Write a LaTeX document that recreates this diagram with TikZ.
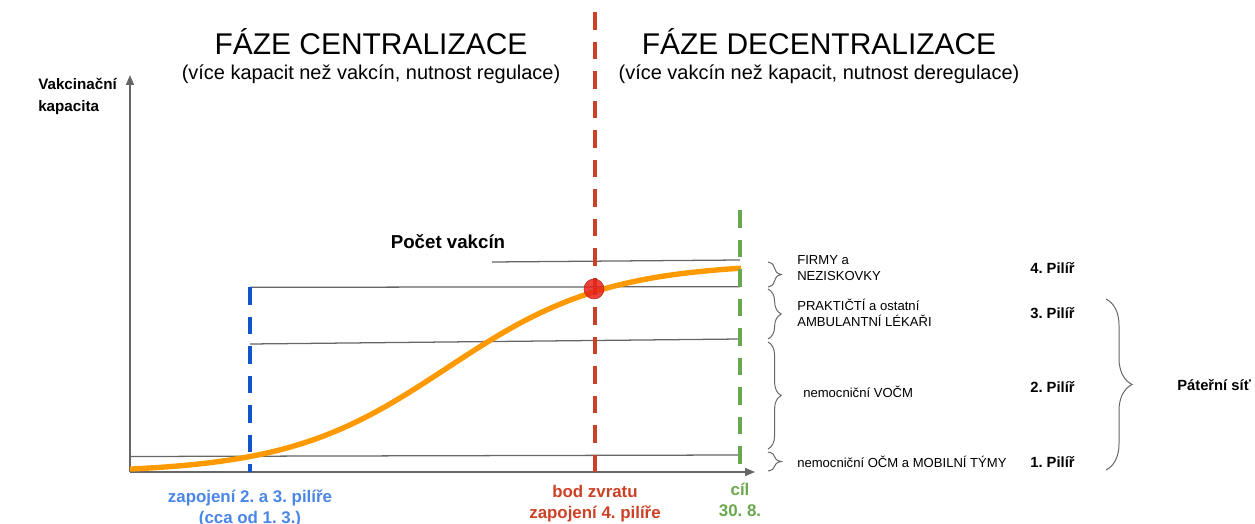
\documentclass[tikz,border=0pt]{standalone}
\usepackage{fontspec}
\setmainfont{Liberation Sans}
\usepackage{xcolor}
\usepackage{tikz}
\usetikzlibrary{positioning, calc, decorations.pathreplacing, arrows.meta}

\definecolor{axisgray}{HTML}{666666}
\definecolor{curveorange}{HTML}{FF9900}
\definecolor{phaseblue}{HTML}{1155CC}
\definecolor{labelblue}{HTML}{4A86E8}
\definecolor{phasered}{HTML}{CC4125}
\definecolor{phasegreen}{HTML}{6AA84F}
\definecolor{dotred}{HTML}{E6231B}

\newcommand{\fsz}[2]{\fontsize{#1}{#2}\selectfont}
\frenchspacing

\begin{document}
\begin{tikzpicture}[x=0.025cm, y=-0.025cm,
	title/.style={font=\fsz{21.3}{25}, inner sep=0, anchor=base},
	subtitle/.style={font=\fsz{14.2}{17}, inner sep=0, anchor=base},
	group/.style={font=\fsz{9.3}{11.3}, inner sep=0, anchor=west, align=left},
	pillar/.style={font=\bfseries\fsz{10.5}{12.6}, inner sep=0, anchor=west},
	phase/.style={font=\bfseries\fsz{12}{14.4}, inner sep=0, anchor=base, align=center},
	level/.style={axisgray, line width=0.9pt},
	marker/.style={line width=2.6pt, dash pattern=on 12.5pt off 8.5pt},
	brc/.style={axisgray, line width=0.7pt, decorate, decoration={brace, amplitude=#1}}]
			\useasboundingbox (0,0) rectangle (1255,524);
			
			% phases
			\node[title] (tcen) at (371,55) {FÁZE CENTRALIZACE};
			\node[subtitle] (scen) at ($(tcen.base)+(0,25)$) {(více kapacit než vakcín, nutnost regulace)};
			\node[title] (tdec) at (819,55) {FÁZE DECENTRALIZACE};
			\node[subtitle] (sdec) at ($(tdec.base)+(0,25)$) {(více vakcín než kapacit, nutnost deregulace)};
			
			\node[font=\bfseries\fsz{10.8}{15.6}, inner sep=0, anchor=north west, align=left] (ylab) at (38,78) {Vakcinační\\kapacita};
			\node[font=\bfseries\fsz{13.3}{16}, inner sep=0] (count) at (448,242) {Počet vakcín};
			
			% axes
			\coordinate (o) at (130,472);
			\coordinate (ytop) at (130,75);
			\coordinate (xend) at (755,472);
			\tikzstyle{axis}=[axisgray, line width=1pt, -{Triangle[length=7pt, width=5.6pt]}]
			\draw[axis] (o) -- (ytop);
			\draw[axis] (o) -- (xend);
			
			% capacity levels
			\coordinate (l1a) at (130,456.5);	\coordinate (l1b) at (740,455);
			\coordinate (l2a) at (250,344);		\coordinate (l2b) at (740,339);
			\coordinate (l3a) at (250,287.3);	\coordinate (l3b) at (740,286.7);
			\coordinate (l4a) at (492,262);		\coordinate (l4b) at (740,260);
			\foreach \l in {1,...,4} \draw[level] (l\l a) -- (l\l b);
			
			% vaccines
			\draw[curveorange, line width=3.8pt] plot[domain=130:741, samples=90] (\x, {473-210/(1+exp(-(\x-447)/80))});
			
			\draw[marker, phaseblue] (250,287) -- (250,472);
			\draw[marker, phasered] (595,12) -- (595,472);
			\draw[marker, phasegreen] (740,210) -- (740,472);
			
			\node[circle, fill=dotred, draw=dotred!85!black, fill opacity=0.85, minimum size=0.5cm, inner sep=0] (turn) at (594,289) {};
			
			\node[phase, labelblue] (lblue) at (250,523) {zapojení 2. a 3. pilíře\\(cca od 1. 3.)};
			\node[phase, phasered] (lred) at (595,518) {bod zvratu\\zapojení 4. pilíře};
			\node[phase, phasegreen] (lgreen) at (740,516) {cíl\\30. 8.};
			
			% pillars
			\draw[brc=0.33cm] (768,262) -- (768,287);
			\draw[brc=0.33cm] (768,289) -- (768,339);
			\draw[brc=0.33cm] (768,342) -- (768,449);
			\draw[brc=0.33cm] (768,452) -- (768,471);
			
			\node[group] (g4) at (797,268) {FIRMY a\\NEZISKOVKY};
			\node[group] (g3) at (797,313) {PRAKTIČTÍ a ostatní\\AMBULANTNÍ LÉKAŘI};
			\node[group] (g2) at (803,392) {nemocniční VOČM};
			\node[group] (g1) at (797,462) {nemocniční OČM a MOBILNÍ TÝMY};
			
			\node[pillar] (p4) at (1030,268) {4. Pilíř};
			\node[pillar] (p3) at (1030,313) {3. Pilíř};
			\node[pillar] (p2) at (1030,387) {2. Pilíř};
			\node[pillar] (p1) at (1030,462) {1. Pilíř};
			
			\draw[brc=0.65cm] (1106,299) -- (1106,470);
			\node[pillar] (backbone) at (1177,385) {Páteřní síť};
			
			\end{tikzpicture}
\end{document}
